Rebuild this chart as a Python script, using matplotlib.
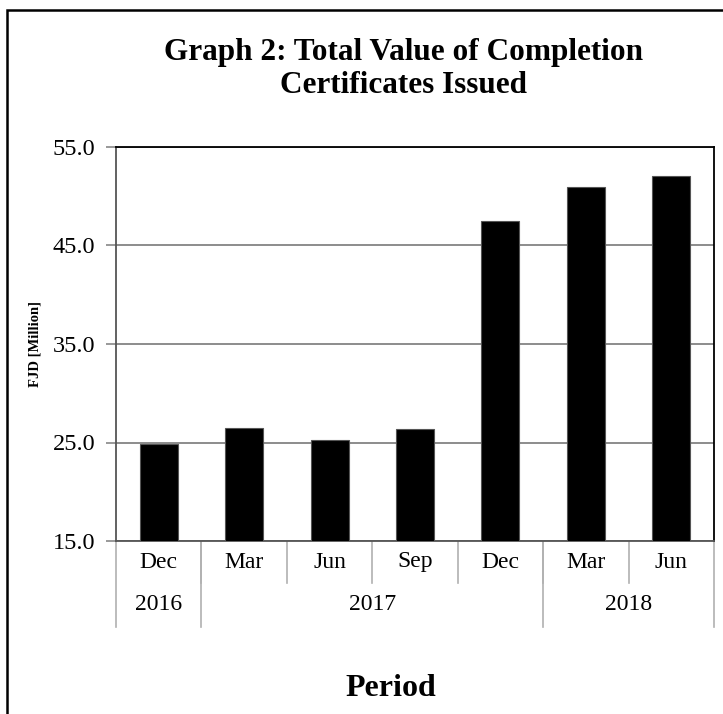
import numpy as np
import matplotlib
matplotlib.use("Agg")
import matplotlib.pyplot as plt
from matplotlib.patches import Rectangle

# ===== data =====
months = ["Dec", "Mar", "Jun", "Sep", "Dec", "Mar", "Jun"]
years = ["2016", "2017", "2018"]
year_span = [1, 4, 2]   # number of quarters under each year
values = [24.8, 26.5, 25.3, 26.4, 47.5, 50.9, 52.1]

plt.rcParams['font.family'] = ['Liberation Serif', 'DejaVu Serif']

fig = plt.figure(figsize=(7.23, 7.14), dpi=100)

# outer frame (only left / top edges visible in the picture)
fig.patches.append(Rectangle((7 / 723, -0.1), 1.2, 1 - 10 / 714 + 0.1,
                             transform=fig.transFigure, fill=False,
                             edgecolor="black", linewidth=1.8))

ax = fig.add_axes([116 / 723, 1 - 541 / 714, (714 - 116) / 723, (541 - 147) / 714])

x = np.arange(len(values))
ax.bar(x, values, width=0.445, color="black", edgecolor="#555555",
       linewidth=0.8, zorder=3)

ax.set_xlim(-0.5, len(values) - 0.5)
ax.set_ylim(15, 55)
ax.set_yticks(np.arange(15, 56, 10))
ax.set_yticklabels([f"{v:.1f}" for v in np.arange(15, 56, 10)], fontsize=17.5)
ax.tick_params(axis="y", direction="out", length=7, width=1.2,
               color="#888888", pad=8)
ax.set_xticks([])
ax.grid(axis="y", color="#8c8c8c", linewidth=1.4, zorder=0)

for side in ["left", "bottom"]:
    ax.spines[side].set_color("#555555")
    ax.spines[side].set_linewidth(1.3)
for side in ["top", "right"]:
    ax.spines[side].set_color("black")
    ax.spines[side].set_linewidth(1.3)

# ===== two-level category axis =====
tr = ax.get_xaxis_transform()
row1 = -(583 - 541) / 394
row2 = -(627 - 541) / 394
sep_color = "#b0b0b0"

for i, m in enumerate(months):
    ax.text(i, row1 / 2, m, transform=tr, ha="center", va="center", fontsize=17)

# quarter separators
for b in range(1, len(months)):
    ax.plot([b - 0.5, b - 0.5], [0, row1], transform=tr, color=sep_color,
            linewidth=1.2, clip_on=False)

# year separators and labels
edges = np.concatenate([[0], np.cumsum(year_span)]) - 0.5
for e in edges:
    ax.plot([e, e], [0, row2], transform=tr, color=sep_color,
            linewidth=1.2, clip_on=False)
for k, yr in enumerate(years):
    mid = (edges[k] + edges[k + 1]) / 2
    ax.text(mid, (row1 + row2) / 2, yr, transform=tr, ha="center",
            va="center", fontsize=17)

# ===== titles =====
fig.text(404 / 723, 1 - 69 / 714,
         "Graph 2: Total Value of Completion\nCertificates Issued",
         ha="center", va="center", fontsize=22.5, fontweight="bold",
         linespacing=1.22)
fig.text(391 / 723, 1 - 688 / 714, "Period", ha="center", va="center",
         fontsize=23, fontweight="bold")
fig.text(35 / 723, 1 - 344 / 714, "FJD [Million]", ha="center", va="center",
         rotation=90, fontsize=10.5, fontweight="bold")

fig.savefig("out.png", dpi=100)
